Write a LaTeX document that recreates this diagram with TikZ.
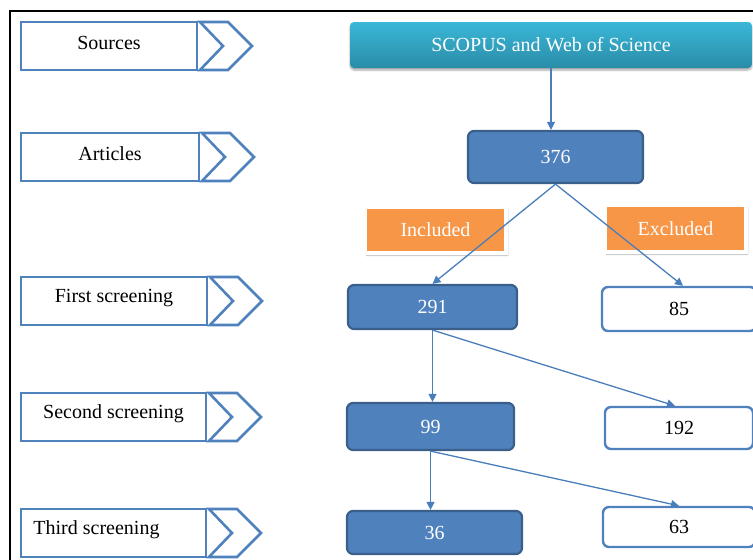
\documentclass[tikz,border=0pt]{standalone}
\usepackage{fontspec}
\setmainfont{Liberation Serif}
\usepackage{xcolor}
\usetikzlibrary{arrows.meta,calc,shadows.blur,positioning}

\definecolor{boxblue}{HTML}{4F81BD}
\definecolor{boxedge}{HTML}{3A5F8B}
\definecolor{lineblue}{HTML}{4A7EBB}
\definecolor{tealtop}{HTML}{3AB7D8}
\definecolor{tealbot}{HTML}{2A8CA7}
\definecolor{orangebox}{HTML}{F79646}

\begin{document}
\begin{tikzpicture}[x=1pt,y=-1pt,>={Triangle[length=8pt,width=8pt]},
        every node/.style={font=\fontsize{20}{23}\selectfont},
        stagebox/.style={draw=boxblue,line width=2.6pt,minimum height=48pt,inner sep=0pt,outer sep=0pt},
        stagetext/.style={inner sep=0pt},
        chevron/.style={draw=boxblue,line width=2.6pt,line join=miter},
        dbbox/.style={rounded corners=4pt,top color=tealtop,bottom color=tealbot,text=white,
            minimum width=402pt,minimum height=46pt,
            blur shadow={shadow xshift=0pt,shadow yshift=-2pt,shadow blur steps=6,shadow opacity=35}},
        keptbox/.style={fill=boxblue,draw=boxedge,line width=2.2pt,rounded corners=6pt,text=white},
        dropbox/.style={fill=white,draw=boxblue,line width=2.4pt,rounded corners=6pt},
        tagbox/.style={fill=orangebox,draw=white,line width=4pt,text=white,minimum width=141pt,
            blur shadow={shadow xshift=1.5pt,shadow yshift=-2pt,shadow blur steps=5,shadow opacity=30}},
        flow/.style={->,draw=lineblue,line width=1.3pt}]
        \clip (0,0) rectangle (753,560);

        % frame of the figure
        \draw[line width=2pt] (10,562) -- (10,11) -- (762,11);

        % stages on the left
        \foreach \n/\txt/\yy/\w/\dx in {
            src/Sources/46/176/0,
            art/Articles/157/178/0,
            fst/First screening/301/186/0,
            snd/Second screening/417/185/0,
            thd/Third screening/533/185/-17} {
                \node[stagebox,minimum width=\w pt,anchor=west] (\n) at (21,\yy) {};
                \node[stagetext] (\n-t) at ($(\n.center)+(\dx,-3)$) {\txt};
                \draw[chevron] ($(\n.north east)+(3,0)$) -- ++(28,0) -- ++(24,24)
                    -- ++(-24,24) -- ++(-28,0) -- ++(23,-24) -- cycle;
        }

        % the databases
        \node[dbbox] (db) at (551,45) {SCOPUS and Web of Science};

        % records kept
        \node[keptbox,minimum width=175pt,minimum height=52pt] (n376) at (555.5,157) {376};
        \node[keptbox,minimum width=169pt,minimum height=44pt] (n291) at (432.5,307) {291};
        \node[keptbox,minimum width=167pt,minimum height=47pt] (n99) at (430.5,426.5) {99};
        \node[keptbox,minimum width=175pt,minimum height=43pt] (n36) at (434.5,532.5) {36};

        % records dropped
        \node[dropbox,minimum width=154pt,minimum height=44pt] (n85) at (679,309) {85};
        \node[dropbox,minimum width=148pt,minimum height=42pt] (n192) at (679,428) {192};
        \node[dropbox,minimum width=152pt,minimum height=40pt] (n63) at (679,527) {63};

        % tags
        \node[tagbox,minimum height=46pt] (inc) at (435.5,230) {Included};
        \node[tagbox,minimum height=47pt] (exc) at (675.5,228.5) {Excluded};

        % connectors
        \draw[flow] (db.south) -- (db.south |- n376.north);
        \draw[flow] (n376.south) -- (n291.north);
        \draw[flow] (n376.south) -- ([xshift=4pt]n85.north);
        \draw[flow] (n291.south) -- (n291.south |- n99.north);
        \draw[flow] (n291.south) -- ([xshift=-4pt]n192.north);
        \draw[flow] (n99.south) -- (n99.south |- n36.north);
        \draw[flow] (n99.south) -- (n63.north);
\end{tikzpicture}
\end{document}
